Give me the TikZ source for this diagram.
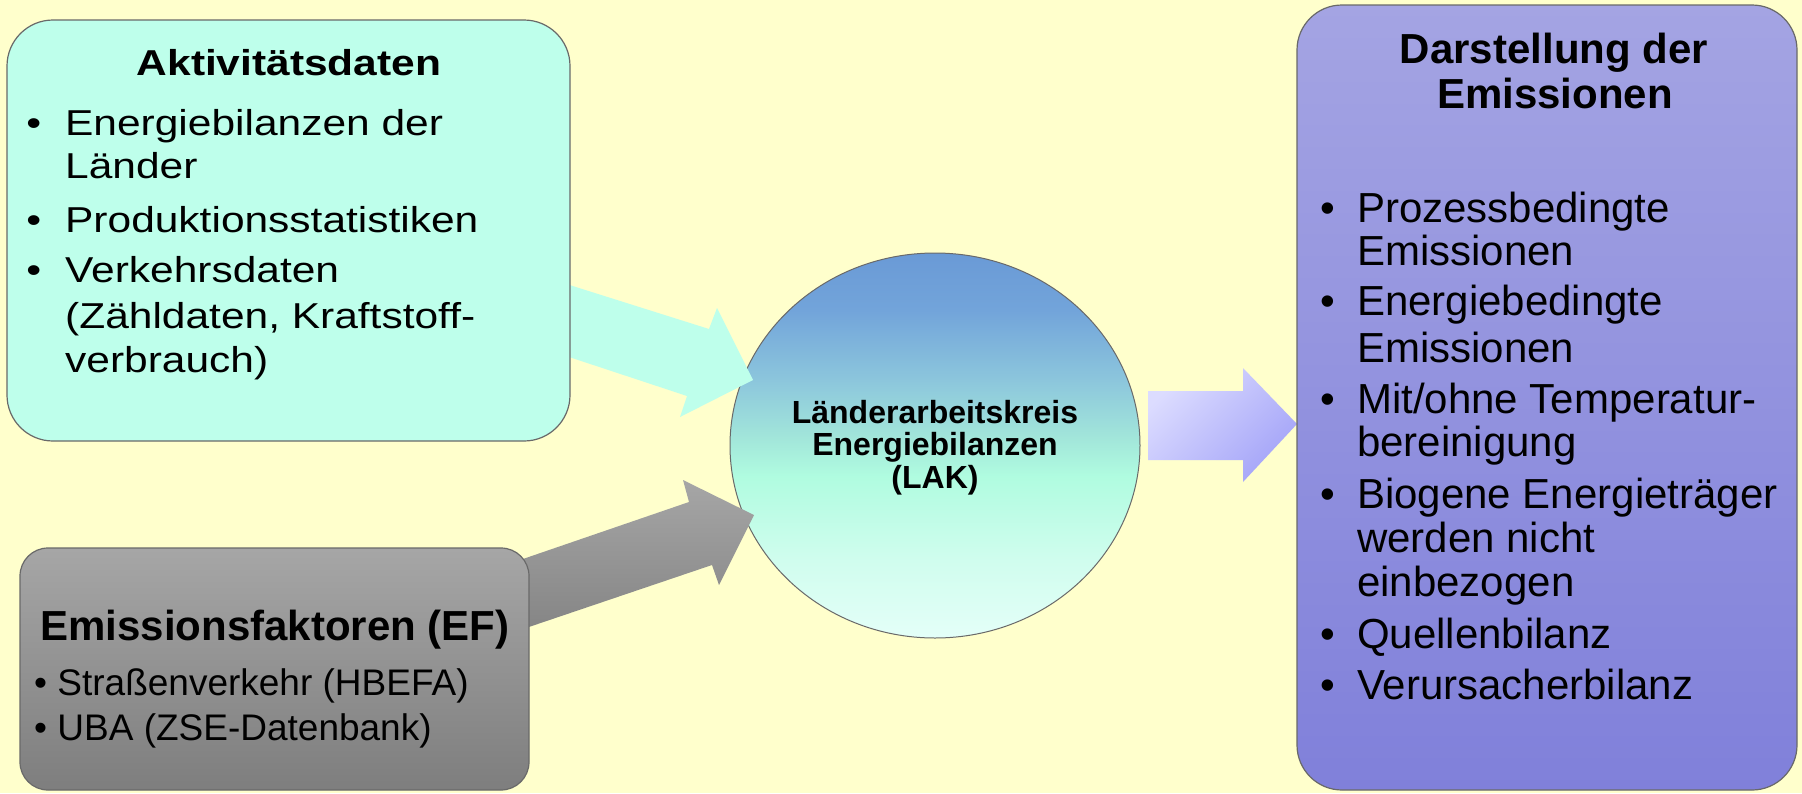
\documentclass[tikz,border=0pt]{standalone}
\usepackage{fontspec}
\setmainfont{Liberation Sans}
\newfontfamily\wfont[FakeStretch=1.18]{Liberation Sans}
\usetikzlibrary{shapes.geometric}
\definecolor{bgyel}{RGB}{255,255,204}
\definecolor{cyanbox}{RGB}{190,255,235}
\definecolor{edgegray}{RGB}{105,105,105}
\definecolor{grayTop}{RGB}{166,166,166}
\definecolor{grayBot}{RGB}{126,126,126}
\definecolor{purTop}{RGB}{164,164,227}
\definecolor{purBot}{RGB}{128,128,218}
\definecolor{lavA}{RGB}{220,220,255}
\definecolor{lavB}{RGB}{164,164,248}
\definecolor{garTop}{RGB}{166,166,166}
\definecolor{garBot}{RGB}{133,133,133}
\pgfdeclareverticalshading{ellshade}{100bp}{%
  rgb(0bp)=(0.894,1,0.973);
  rgb(25bp)=(0.894,1,0.973);
  rgb(35bp)=(0.816,0.992,0.933);
  rgb(46bp)=(0.690,0.988,0.878);
  rgb(51bp)=(0.635,0.902,0.855);
  rgb(58.5bp)=(0.549,0.776,0.863);
  rgb(67.6bp)=(0.447,0.643,0.855);
  rgb(75bp)=(0.416,0.604,0.839);
  rgb(100bp)=(0.416,0.604,0.839)}
\newcommand\mybul[1]{\llap{•\hspace{#1}}}
\tikzset{
  txt/.style={inner sep=0pt, anchor=base west, text=black},
  ctxt/.style={inner sep=0pt, anchor=base, text=black},
  boxbase/.style={draw=edgegray, line width=1.2pt, inner sep=0pt, rectangle},
  lefttxt/.style={txt, font=\wfont\fontsize{36}{36}\selectfont},
  lefthead/.style={ctxt, font=\wfont\bfseries\fontsize{36}{36}\selectfont},
  righttxt/.style={txt, font=\fontsize{42}{42}\selectfont},
  righthead/.style={ctxt, font=\bfseries\fontsize{42}{42}\selectfont},
  graytxt/.style={txt, font=\fontsize{37}{37}\selectfont},
  grayhead/.style={ctxt, font=\bfseries\fontsize{42}{42}\selectfont},
  elltxt/.style={ctxt, font=\bfseries\fontsize{32}{32}\selectfont},
}
\begin{document}
\begin{tikzpicture}[x=1pt,y=-1pt]
\useasboundingbox (0,0) rectangle (1802,793);
\fill[bgyel] (0,0) rectangle (1802,793);

% central ellipse
\node[ellipse, draw=edgegray, line width=1pt, shading=ellshade,
      minimum width=410pt, minimum height=385pt, inner sep=0pt] (lak) at (935,445.5) {};
\node[elltxt] (lak1) at (935,423) {Länderarbeitskreis};
\node[elltxt] (lak2) at (935,455) {Energiebilanzen};
\node[elltxt] (lak3) at (935,488) {(LAK)};

% cyan arrow
\fill[cyanbox] (560,282) -- (709,329) -- (717,308) -- (753,380) -- (680,417) -- (687,396) -- (560,354) -- cycle;
% gray arrow
\shade[top color=garTop, bottom color=garBot] (520,560) -- (689,502) -- (683,480) -- (754,515) -- (719,585) -- (712,565) -- (520,630) -- cycle;
% lavender arrow
\shade[top color=lavA, bottom color=lavB, shading angle=45] (1148,391) -- (1243,391) -- (1243,368) -- (1297,424) -- (1243,482) -- (1243,460) -- (1148,460) -- cycle;

% Aktivitaetsdaten box
\node[boxbase, rounded corners=46pt, fill=cyanbox, minimum width=563pt, minimum height=421pt] (akt) at (288.5,230.5) {};
\node[lefthead] (akt0) at (289,75) {Aktivitätsdaten};
\node[lefttxt] (akt1) at (65,135) {\mybul{24pt}Energiebilanzen der};
\node[lefttxt] (akt2) at (65,178) {Länder};
\node[lefttxt] (akt3) at (65,232) {\mybul{24pt}Produktionsstatistiken};
\node[lefttxt] (akt4) at (65,282) {\mybul{24pt}Verkehrsdaten};
\node[lefttxt] (akt5) at (65,328) {(Zähldaten, Kraftstoff-};
\node[lefttxt] (akt6) at (65,372) {verbrauch)};

% Emissionsfaktoren box
\node[boxbase, rounded corners=28pt, top color=grayTop, bottom color=grayBot, minimum width=509pt, minimum height=242pt] (ef) at (274.5,669) {};
\node[grayhead] (ef0) at (275,640) {Emissionsfaktoren (EF)};
\node[graytxt] (ef1) at (34,695) {• Straßenverkehr (HBEFA)};
\node[graytxt] (ef2) at (34,740) {• UBA (ZSE-Datenbank)};

% Darstellung box
\node[boxbase, rounded corners=45pt, top color=purTop, bottom color=purBot, minimum width=500pt, minimum height=785pt] (dar) at (1547,397.5) {};
\node[righthead] (dar0) at (1554,63) {Darstellung der};
\node[righthead] (dar00) at (1555,108) {Emissionen};
\node[righttxt] (dar1) at (1357,222) {\mybul{22pt}Prozessbedingte};
\node[righttxt] (dar2) at (1357,265) {Emissionen};
\node[righttxt] (dar3) at (1357,315) {\mybul{22pt}Energiebedingte};
\node[righttxt] (dar4) at (1357,362) {Emissionen};
\node[righttxt] (dar5) at (1357,413) {\mybul{22pt}Mit/ohne Temperatur-};
\node[righttxt] (dar6) at (1357,456) {bereinigung};
\node[righttxt] (dar7) at (1357,508) {\mybul{22pt}Biogene Energieträger};
\node[righttxt] (dar8) at (1357,552) {werden nicht};
\node[righttxt] (dar9) at (1357,596) {einbezogen};
\node[righttxt] (dar10) at (1357,648) {\mybul{22pt}Quellenbilanz};
\node[righttxt] (dar11) at (1357,699) {\mybul{22pt}Verursacherbilanz};
\end{tikzpicture}
\end{document}
